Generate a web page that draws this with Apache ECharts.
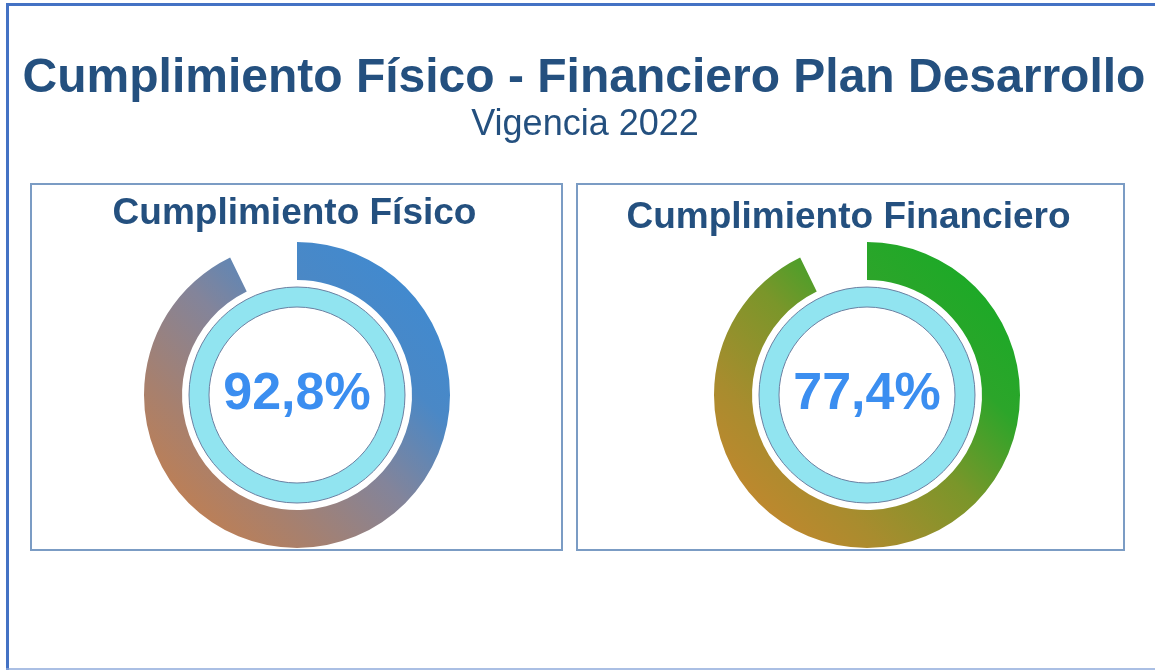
<!DOCTYPE html>
<html>
<head>
<meta charset="utf-8">
<title>Cumplimiento Físico - Financiero</title>
<script src="https://cdn.jsdelivr.net/npm/echarts@6/dist/echarts.min.js"></script>
<style>
  html, body { margin: 0; padding: 0; background: #fff; }
  #main { width: 1155px; height: 670px; }
</style>
</head>
<body>
<div id="main"></div>
<script>
// datos
const titulo = "Cumplimiento Físico - Financiero Plan Desarrollo";
const subtitulo = "Vigencia 2022";
const categorias = ["Cumplimiento Físico", "Cumplimiento Financiero"];
const valores = [92.8, 77.4];
// extension del arco dibujado (igual en los dos anillos)
const arcos = [92.8, 92.8];

const FONT = "'Liberation Sans', Arial, sans-serif";
const AZUL = "#24507f";

const centros = [[297, 395], [867, 395]];
const cajas = [[31, 184, 531, 366], [577, 184, 547, 366]];
const titulosY = [214, 218];
const colores = [
  [
    [0, "#3a8bd6"], [0.3, "#4a88c6"], [0.5, "#83849a"], [0.72, "#a7806e"], [0.9, "#c27f50"], [1, "#c97d45"],
  ],
  [
    [0, "#10ad25"], [0.3, "#2ca52a"], [0.5, "#7a962a"], [0.72, "#a88c2e"], [0.9, "#c4872e"], [1, "#cc862c"],
  ],
];

function fmt(v) {
  return v.toFixed(1).replace(".", ",") + "%";
}

const chart = echarts.init(document.getElementById("main"), null, { renderer: "canvas" });

const series = [];
categorias.forEach((cat, i) => {
  const grad = new echarts.graphic.LinearGradient(
    1, 0, 0, 1,
    colores[i].map((s) => ({ offset: s[0], color: s[1] }))
  );
  // anillo de color
  series.push({
    type: "pie",
    silent: true,
    center: centros[i],
    radius: [115, 153],
    startAngle: 90,
    clockwise: true,
    label: { show: false },
    labelLine: { show: false },
    data: [
      { value: arcos[i], name: cat, itemStyle: { color: grad } },
      { value: 100 - arcos[i], name: "resto", itemStyle: { color: "rgba(0,0,0,0)" } },
    ],
  });
  // anillo celeste con el porcentaje
  series.push({
    type: "pie",
    silent: true,
    center: centros[i],
    radius: [88, 108],
    itemStyle: { color: "#91e4f0", borderColor: "#6b80a2", borderWidth: 1 },
    label: {
      show: true,
      position: "center",
      formatter: () => fmt(valores[i]),
      fontFamily: FONT,
      fontSize: 52,
      fontWeight: "bold",
      color: "#3b8ef0",
      padding: [0, 0, 24, 0],
    },
    labelLine: { show: false },
    data: [{ value: 1, name: cat }],
  });
});

const graphic = [
  // marco
  { type: "line", shape: { x1: 6, y1: 4.5, x2: 1155, y2: 4.5 }, style: { stroke: "#4472c4", lineWidth: 3 } },
  { type: "line", shape: { x1: 7.5, y1: 3, x2: 7.5, y2: 670 }, style: { stroke: "#4472c4", lineWidth: 3 } },
  { type: "line", shape: { x1: 6, y1: 669, x2: 1155, y2: 669 }, style: { stroke: "#8eaadb", lineWidth: 1.5 } },
  {
    type: "text", x: 584, y: 79,
    style: { text: titulo, font: "bold 48px " + FONT, fill: AZUL, align: "center", verticalAlign: "middle" },
  },
  {
    type: "text", x: 585, y: 125,
    style: { text: subtitulo, font: "36px " + FONT, fill: AZUL, align: "center", verticalAlign: "middle" },
  },
];
cajas.forEach((c, i) => {
  graphic.push({
    type: "rect", z: -1,
    shape: { x: c[0], y: c[1], width: c[2], height: c[3] },
    style: { fill: "#fff", stroke: "#7b9cc4", lineWidth: 2 },
  });
  graphic.push({
    type: "text",
    x: c[0] + c[2] / 2 - 2, y: titulosY[i],
    style: { text: categorias[i], font: "bold 37px " + FONT, fill: AZUL, align: "center", verticalAlign: "middle" },
  });
});

chart.setOption({
  backgroundColor: "#fff",
  animation: false,
  graphic,
  series,
});
</script>
</body>
</html>
